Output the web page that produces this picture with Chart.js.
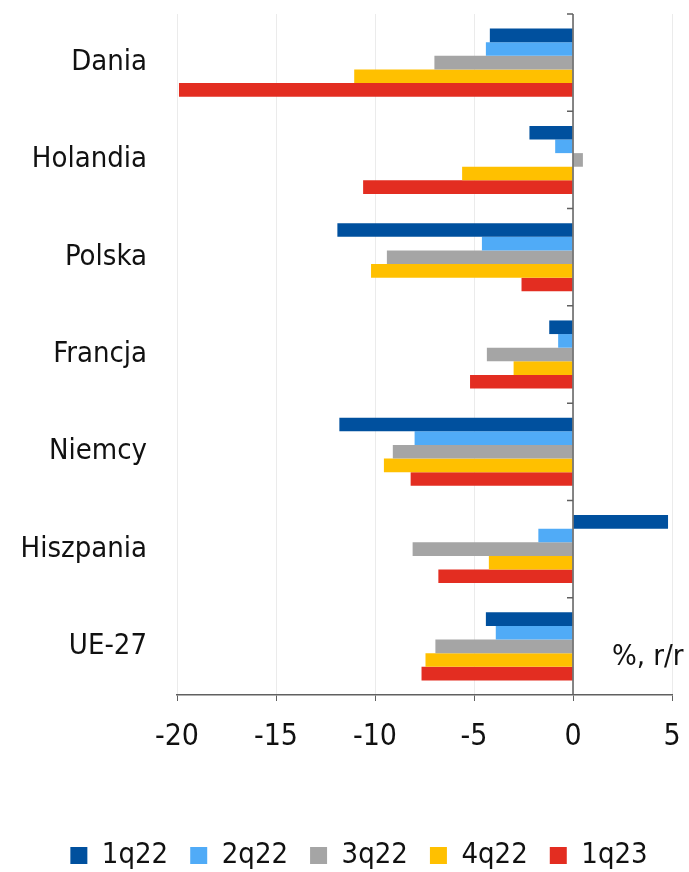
<!DOCTYPE html>
<html>
<head>
<meta charset="utf-8">
<script src="https://cdn.jsdelivr.net/npm/chart.js@4/dist/chart.umd.min.js"></script>
<style>
  html, body { margin: 0; padding: 0; background: #fff; }
  #wrap { width: 689px; height: 872px; position: relative; }
</style>
</head>
<body>
<div id="wrap"><canvas id="chart"></canvas></div>
<script>
// ----------------- Data -----------------
const countries = ["Dania", "Holandia", "Polska", "Francja", "Niemcy", "Hiszpania", "UE-27"];
const q1_22 = [-4.2, -2.2, -11.9, -1.2, -11.8, 4.8, -4.4];
const q2_22 = [-4.4, -0.9, -4.6, -0.75, -8.0, -1.75, -3.9];
const q3_22 = [-7.0, 0.5, -9.4, -4.35, -9.1, -8.1, -6.95];
const q4_22 = [-11.05, -5.6, -10.2, -3.0, -9.55, -4.25, -7.45];
const q1_23 = [-19.9, -10.6, -2.6, -5.2, -8.2, -6.8, -7.65];
const xTicks = [-20, -15, -10, -5, 0, 5];

const FONT = '"Liberation Sans Narrow", "DejaVu Sans Condensed", "Liberation Sans", sans-serif';
const TEXT = "#111111";
const AXIS = "#606060";

// ----------------- Plugins -----------------
// axis at zero with small tick marks between the categories
const zeroAxis = {
  id: "zeroAxis",
  afterDatasetsDraw(chart) {
    const { ctx, chartArea } = chart;
    const x0 = chart.scales.x.getPixelForValue(0);
    const n = countries.length;
    const band = (chartArea.bottom - chartArea.top) / n;
    ctx.save();
    ctx.strokeStyle = AXIS;
    ctx.lineWidth = 1.5;
    ctx.beginPath();
    ctx.moveTo(x0, chartArea.top);
    ctx.lineTo(x0, chartArea.bottom);
    for (let i = 0; i < n; i++) {
      const y = chartArea.top + i * band;
      ctx.moveTo(x0 - 6, y);
      ctx.lineTo(x0, y);
    }
    ctx.stroke();
    ctx.restore();
  }
};

// unit note in the lower right corner
const unitNote = {
  id: "unitNote",
  afterDraw(chart) {
    const { ctx, chartArea } = chart;
    ctx.save();
    ctx.font = "29px " + FONT;
    ctx.fillStyle = TEXT;
    ctx.textAlign = "left";
    ctx.textBaseline = "middle";
    ctx.fillText("%, r/r", chartArea.right - 60, chartArea.bottom - 38);
    ctx.restore();
  }
};

// legend sits a bit right of the canvas centre
const legendShift = {
  id: "legendShift",
  afterLayout(chart) {
    chart.legend.left += 46;
  }
};

// ----------------- Chart -----------------
const series = [
  { label: "1q22", data: q1_22, color: "#00509e" },
  { label: "2q22", data: q2_22, color: "#50abf7" },
  { label: "3q22", data: q3_22, color: "#a5a5a5" },
  { label: "4q22", data: q4_22, color: "#ffc000" },
  { label: "1q23", data: q1_23, color: "#e32d21" }
];

new Chart(document.getElementById("chart"), {
  type: "bar",
  data: {
    labels: countries,
    datasets: series.map(s => ({
      label: s.label,
      data: s.data,
      backgroundColor: s.color,
      borderWidth: 0,
      categoryPercentage: 0.7,
      barPercentage: 1.0
    }))
  },
  options: {
    indexAxis: "y",
    responsive: true,
    maintainAspectRatio: false,
    animation: false,
    layout: { padding: { top: 14, right: 17, left: 0, bottom: -8 } },
    plugins: {
      tooltip: { enabled: false },
      legend: {
        position: "bottom",
        labels: {
          font: { family: FONT, size: 29 },
          color: TEXT,
          boxWidth: 17,
          boxHeight: 17,
          padding: 22
        }
      }
    },
    scales: {
      x: {
        min: -20,
        max: 5,
        afterBuildTicks: scale => { scale.ticks = xTicks.map(v => ({ value: v })); },
        afterFit: scale => {
          scale.height += 46;
          scale.paddingLeft = 0;
          scale.paddingRight = 0;
        },
        grid: { color: "#ebebeb", lineWidth: 1, tickColor: AXIS, tickLength: 6 },
        border: { display: true, color: AXIS, width: 1.5 },
        ticks: {
          font: { family: FONT, size: 30 },
          color: TEXT,
          padding: 18,
          maxRotation: 0
        }
      },
      y: {
        afterFit: scale => {
          scale.width = 177;
          scale.paddingTop = 0;
          scale.paddingBottom = 0;
        },
        grid: { display: false, drawTicks: false },
        border: { display: false },
        ticks: {
          font: { family: FONT, size: 29 },
          color: TEXT,
          padding: 30
        }
      }
    }
  },
  plugins: [zeroAxis, unitNote, legendShift]
});
</script>
</body>
</html>
